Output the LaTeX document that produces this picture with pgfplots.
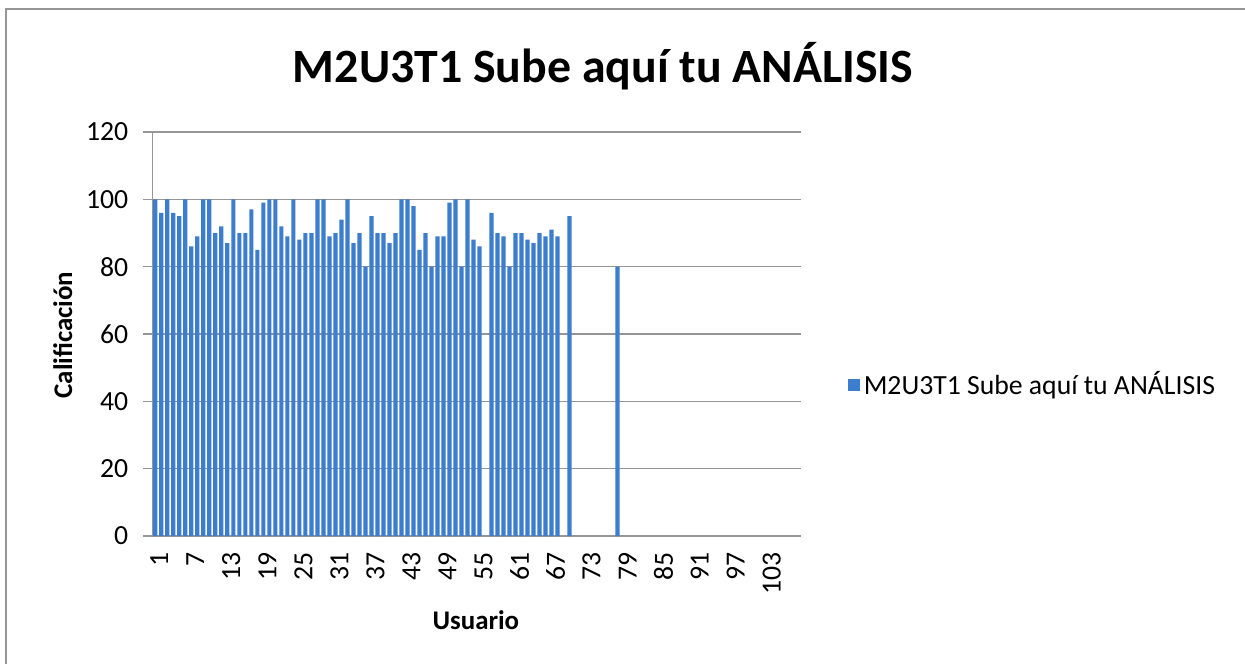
\documentclass[border=0pt]{standalone}
\usepackage{pgfplots}
\pgfplotsset{compat=1.18}
\usepackage{fontspec}
\setmainfont{Carlito}
\definecolor{barblue}{RGB}{60,125,205}
\definecolor{gridgray}{RGB}{150,150,150}

\begin{document}
\begin{tikzpicture}
\useasboundingbox (0,0) rectangle (622.5bp,-332bp);
\draw[gridgray, line width=0.8bp] (3bp,-700bp) -- (3bp,-4.5bp) -- (800bp,-4.5bp);

\begin{axis}[
  at={(76.15bp,-66bp)}, anchor=north west,
  scale only axis,
  width=324.2bp, height=202bp,
  ybar, bar width=2.1bp,
  xmin=0.5, xmax=108.5,
  ymin=0, ymax=120,
  xtick={1,7,...,103},
  ytick={0,20,...,120},
  axis lines*=left,
  axis line style={gridgray, line width=0.8bp},
  ymajorgrids,
  grid style={gridgray, line width=0.8bp},
  tick align=outside,
  major tick length=4.5bp,
  tick style={gridgray, line width=0.8bp},
  xtick style={draw=none},
  ticklabel style={font=\fontsize{13.9}{16}\selectfont},
  /pgf/number format/assume math mode=true,
  xticklabel style={rotate=90, anchor=east, yshift=-2bp},
  yticklabel style={xshift=-4bp},
  title={\textbf{M2U3T1 Sube aquí tu ANÁLISIS}},
  title style={font=\fontsize{24}{28}\selectfont, at={(rel axis cs:0.695,1.092)}, anchor=base},
  xlabel={\textbf{Usuario}},
  xlabel style={font=\fontsize{13.5}{16}\selectfont, at={(rel axis cs:0.499,-0.208)}, anchor=center},
  ylabel={\textbf{Calificación}},
  ylabel style={font=\fontsize{13.5}{16}\selectfont, at={(rel axis cs:-0.138,0.4975)}, anchor=center, rotate=0},
  legend style={at={(rel axis cs:1.072,0.374)}, anchor=west, draw=none, fill=none,
    font=\fontsize{13.9}{16}\selectfont, inner sep=0pt},
  legend image code/.code={\fill[barblue] (0bp,-3bp) rectangle (6bp,3bp);},
]
\addplot[fill=barblue, draw=none] coordinates {
(1,100) (2,96) (3,100) (4,96) (5,95) (6,100) (7,86) (8,89) (9,100) (10,100)
(11,90) (12,92) (13,87) (14,100) (15,90) (16,90) (17,97) (18,85) (19,99) (20,100)
(21,100) (22,92) (23,89) (24,100) (25,88) (26,90) (27,90) (28,100) (29,100) (30,89)
(31,90) (32,94) (33,100) (34,87) (35,90) (36,80) (37,95) (38,90) (39,90) (40,87)
(41,90) (42,100) (43,100) (44,98) (45,85) (46,90) (47,80) (48,89) (49,89) (50,99)
(51,100) (52,80) (53,100) (54,88) (55,86) (57,96) (58,90) (59,89) (60,80)
(61,90) (62,90) (63,88) (64,87) (65,90) (66,89) (67,91) (68,89) (70,95)
(78,80)
};
\addlegendentry{M2U3T1 Sube aquí tu ANÁLISIS}
\end{axis}
\end{tikzpicture}
\end{document}
